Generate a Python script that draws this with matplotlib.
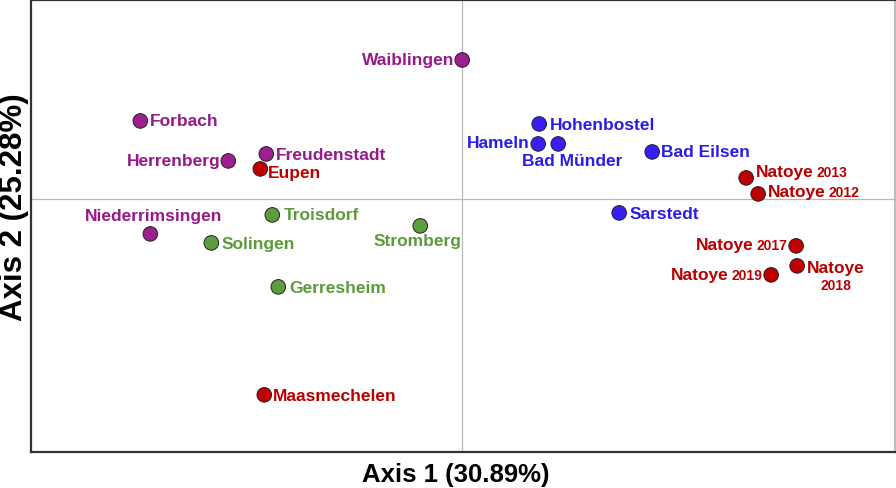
import matplotlib
matplotlib.use("Agg")
import matplotlib.pyplot as plt
from matplotlib.offsetbox import TextArea, HPacker, VPacker, AnnotationBbox

# site scores on the first two axes
sites = ["Waiblingen", "Forbach", "Herrenberg", "Freudenstadt", "Eupen",
         "Niederrimsingen", "Troisdorf", "Solingen", "Stromberg", "Gerresheim",
         "Maasmechelen", "Hohenbostel", "Hameln", "Bad Münder", "Bad Eilsen",
         "Sarstedt", "Natoye 2013", "Natoye 2012", "Natoye 2017", "Natoye 2018",
         "Natoye 2019"]
axis1 = [0.00, -3.22, -2.34, -1.96, -2.02, -3.12, -1.90, -2.51, -0.42, -1.84,
         -1.98, 0.77, 0.76, 0.96, 1.90, 1.57, 2.84, 2.96, 3.34, 3.35, 3.09]
axis2 = [1.39, 0.78, 0.38, 0.45, 0.30, -0.35, -0.16, -0.44, -0.27, -0.88,
         -1.96, 0.75, 0.55, 0.55, 0.47, -0.14, 0.21, 0.05, -0.47, -0.67, -0.76]
group = ["purple", "purple", "purple", "purple", "red", "purple", "green",
         "green", "green", "green", "red", "blue", "blue", "blue", "blue",
         "blue", "red", "red", "red", "red", "red"]

fill = {"purple": "#9c1f8e", "red": "#c00000", "blue": "#3a1ff5", "green": "#5e9c3c"}
txt = {"purple": "#951a8a", "red": "#b80000", "blue": "#2a1ce8", "green": "#5c9a3a"}

# label placement: (ha, dx px, dy px)
place = {
    "Waiblingen": ("right", -8, 0), "Forbach": ("left", 10, 0),
    "Herrenberg": ("right", -8, 0), "Freudenstadt": ("left", 10, -1),
    "Eupen": ("left", 8, -4), "Niederrimsingen": ("center", 3, 18),
    "Troisdorf": ("left", 11, 0), "Solingen": ("left", 10, -1),
    "Stromberg": ("center", -3, -15), "Gerresheim": ("left", 11, -1),
    "Maasmechelen": ("left", 9, -1), "Hohenbostel": ("left", 11, -1),
    "Hameln": ("right", -9, 1), "Bad Münder": ("center", 14, -17),
    "Bad Eilsen": ("left", 9, 0), "Sarstedt": ("left", 10, -1),
    "Natoye 2013": ("left", 10, 6), "Natoye 2012": ("left", 10, 2),
    "Natoye 2017": ("right", -9, 1), "Natoye 2018": ("left", 10, -10),
    "Natoye 2019": ("right", -9, 0),
}

fam = "Liberation Sans"
fig = plt.figure(figsize=(8.96, 4.89), dpi=100)
ax = fig.add_axes([0.035, 0.074, 0.964, 0.924])
ax.set_xlim(-4.31, 4.33)
ax.set_ylim(-2.53, 1.99)
ax.set_xticks([])
ax.set_yticks([])
for s in ["left", "top", "bottom"]:
    ax.spines[s].set_color("#333333")
    ax.spines[s].set_linewidth(1.6)
ax.spines["right"].set_color("#b0b0b0")
ax.spines["right"].set_linewidth(1.2)

ax.axhline(0, color="#b8b8b8", lw=0.9, zorder=0)
ax.axvline(0, color="#b8b8b8", lw=0.9, zorder=0)

ax.scatter(axis1, axis2, s=110, c=[fill[g] for g in group],
           edgecolors="#222222", linewidths=0.7, zorder=3)

for name, x, y, g in zip(sites, axis1, axis2, group):
    ha, dx, dy = place[name]
    col = txt[g]
    if name.startswith("Natoye"):
        year = name.split()[1]
        big = TextArea("Natoye", textprops=dict(color=col, fontsize=12.5,
                                                 fontweight="bold", family=fam))
        small = TextArea(year, textprops=dict(color=col, fontsize=10,
                                               fontweight="bold", family=fam))
        if year == "2018":
            box = VPacker(children=[big, small], align="center", pad=0, sep=2)
        else:
            box = HPacker(children=[big, small], align="baseline", pad=0, sep=2)
        bx = {"left": 0.0, "right": 1.0}[ha]
        ab = AnnotationBbox(box, (x, y), xybox=(dx, dy), boxcoords="offset pixels",
                            box_alignment=(bx, 0.5), frameon=False, pad=0)
        ax.add_artist(ab)
    else:
        ax.annotate(name, (x, y), xytext=(dx, dy), textcoords="offset pixels",
                    ha=ha, va="center", color=col, fontsize=12.5,
                    fontweight="bold", family=fam)

fig.text(0.509, 0.028, "Axis 1 (30.89%)", ha="center", va="center",
         fontsize=18.5, fontweight="bold", family=fam)
fig.text(0.016, 0.577, "Axis 2 (25.28%)", ha="center", va="center",
         rotation=90, fontsize=22.5, fontweight="bold", family=fam)

fig.savefig("out.png", dpi=100)
